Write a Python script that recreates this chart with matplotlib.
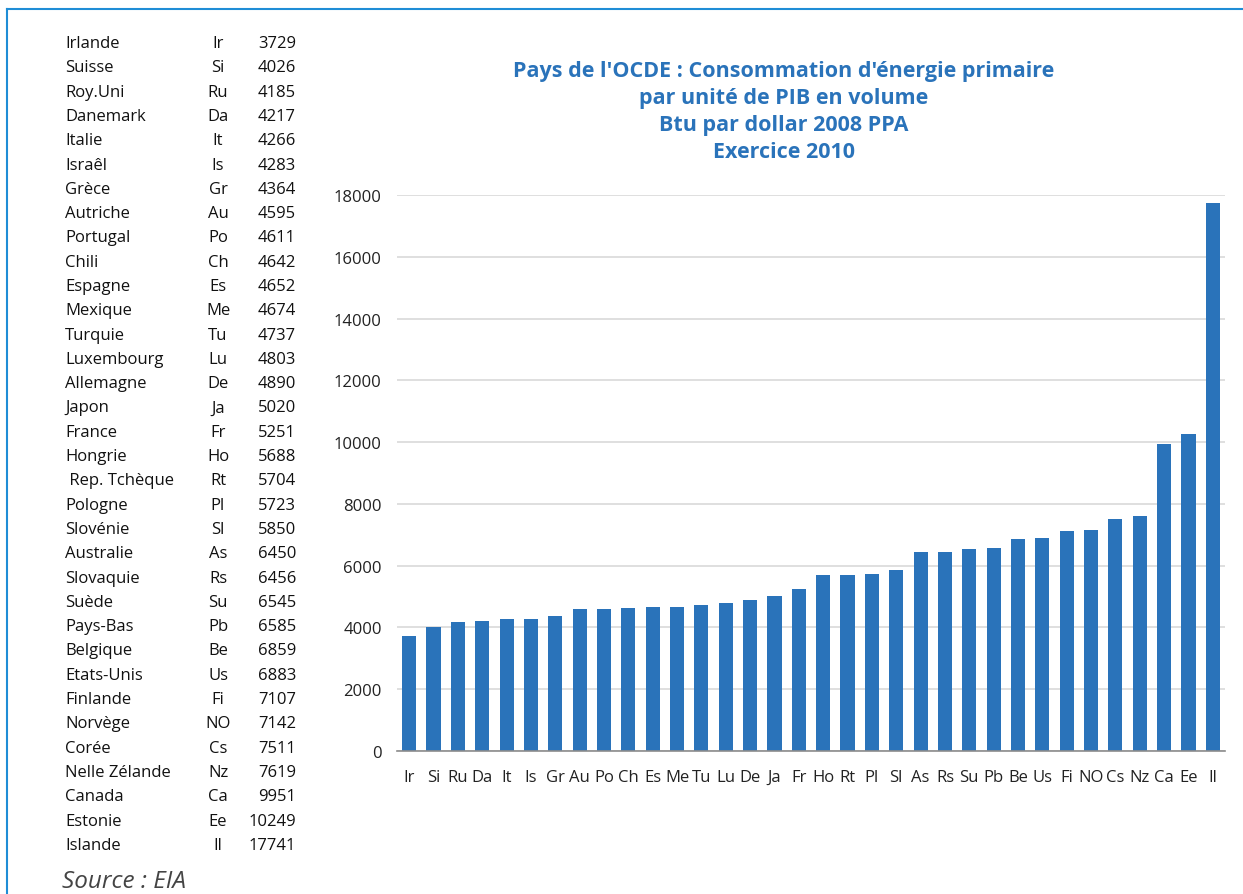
import matplotlib.pyplot as plt
from matplotlib.lines import Line2D

plt.rcParams['font.family'] = ['Open Sans', 'DejaVu Sans']

pays = ['Irlande', 'Suisse', 'Roy.Uni', 'Danemark', 'Italie', 'Israêl', 'Grèce',
        'Autriche', 'Portugal', 'Chili', 'Espagne', 'Mexique', 'Turquie',
        'Luxembourg', 'Allemagne', 'Japon', 'France', 'Hongrie', ' Rep. Tchèque',
        'Pologne', 'Slovénie', 'Australie', 'Slovaquie', 'Suède', 'Pays-Bas',
        'Belgique', 'Etats-Unis', 'Finlande', 'Norvège', 'Corée', 'Nelle Zélande',
        'Canada', 'Estonie', 'Islande']
codes = ['Ir', 'Si', 'Ru', 'Da', 'It', 'Is', 'Gr', 'Au', 'Po', 'Ch', 'Es', 'Me',
         'Tu', 'Lu', 'De', 'Ja', 'Fr', 'Ho', 'Rt', 'Pl', 'Sl', 'As', 'Rs', 'Su',
         'Pb', 'Be', 'Us', 'Fi', 'NO', 'Cs', 'Nz', 'Ca', 'Ee', 'Il']
valeurs = [3729, 4026, 4185, 4217, 4266, 4283, 4364, 4595, 4611, 4642, 4652,
           4674, 4737, 4803, 4890, 5020, 5251, 5688, 5704, 5723, 5850, 6450,
           6456, 6545, 6585, 6859, 6883, 7107, 7142, 7511, 7619, 9951, 10249,
           17741]
yticks = [0, 2000, 4000, 6000, 8000, 10000, 12000, 14000, 16000, 18000]

W, H = 1243, 895
fig = plt.figure(figsize=(W / 100, H / 100), dpi=100)
bleu = '#2A73BA'

# cadre bleu (haut + gauche)
fig.add_artist(Line2D([7 / W, 7 / W], [0, 1 - 10 / H], color='#1F8DD6', lw=1.5,
                      transform=fig.transFigure))
fig.add_artist(Line2D([7 / W, 1], [1 - 10 / H, 1 - 10 / H], color='#1F8DD6', lw=1.5,
                      transform=fig.transFigure))

ax = fig.add_axes([397 / W, 1 - 752 / H, 828 / W, 556 / H])
x = list(range(len(codes)))
ax.bar(x, valeurs, width=0.58, color=bleu, zorder=3)
ax.set_xlim(-0.5, len(codes) - 0.5)
ax.set_ylim(0, 18000)
ax.set_yticks(yticks)
ax.set_yticklabels([str(v) for v in yticks], fontsize=12, color='#222222')
ax.set_xticks(x)
ax.set_xticklabels(codes, fontsize=12, color='#222222')
ax.tick_params(axis='both', length=0)
ax.tick_params(axis='y', pad=11)
ax.tick_params(axis='x', pad=13)
ax.grid(axis='y', color='#D9D9D9', lw=1.2, zorder=0)
for s in ['top', 'right', 'left']:
    ax.spines[s].set_visible(False)
ax.spines['bottom'].set_color('#8C8C8C')
ax.spines['bottom'].set_linewidth(1.2)
ax.spines['bottom'].set_zorder(4)

titre = ("Pays de l'OCDE : Consommation d'énergie primaire\n"
         "par unité de PIB en volume\nBtu par dollar 2008 PPA\nExercice 2010")
fig.text(784 / W, 1 - 112 / H, titre, ha='center', va='center', fontsize=15.5,
         fontweight='bold', color=bleu, linespacing=1.36)

# tableau à gauche
for i in range(len(pays)):
    y = 1 - (44 + i * 24.3) / H
    fig.text(65 / W, y, pays[i], ha='left', va='center', fontsize=12, color='#111111')
    fig.text(218 / W, y, codes[i], ha='center', va='center', fontsize=12, color='#111111')
    fig.text(296 / W, y, str(valeurs[i]), ha='right', va='center', fontsize=12, color='#111111')

fig.text(62 / W, 1 - 882 / H, 'Source : EIA', ha='left', va='center', fontsize=17.5,
         style='italic', color='#444444')

fig.savefig('out.png', dpi=100)
